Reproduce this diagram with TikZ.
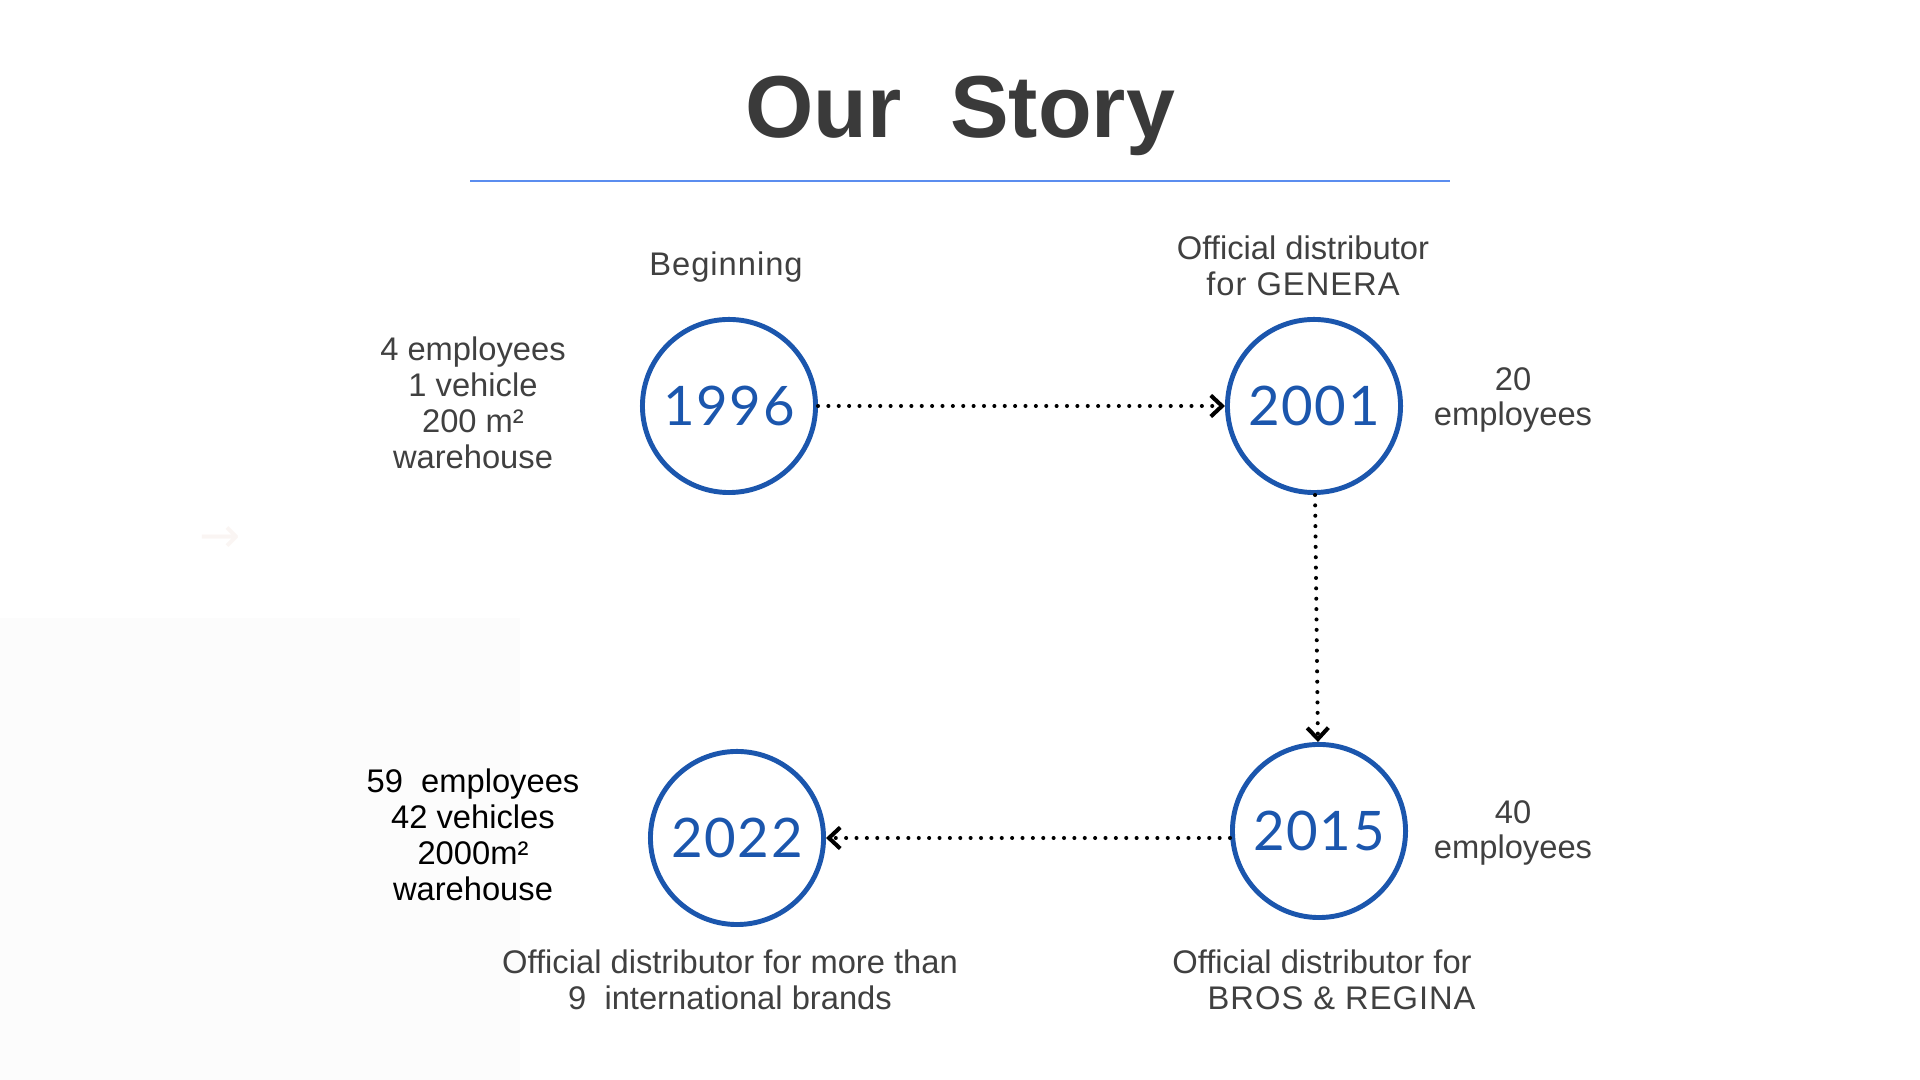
\documentclass[tikz,border=0pt]{standalone}
\usepackage{fontspec}
\setmainfont{Liberation Sans}
\newfontfamily\yearfont[LetterSpace=3]{Lato}
\newfontfamily\spacedfont[LetterSpace=3]{Liberation Sans}
\newfontfamily\symfont{DejaVu Sans}
\usepackage{tikz}
\usetikzlibrary{arrows.meta}
\definecolor{yearblue}{HTML}{1B56AD}
\definecolor{ruleblue}{HTML}{5B8DEF}
\definecolor{titlegrey}{HTML}{3A3A3A}
\definecolor{textgrey}{HTML}{404040}
\definecolor{panelgrey}{HTML}{FCFCFC}
\definecolor{ghost}{HTML}{FAF5F3}
\tikzset{
  year/.style={circle, draw=yearblue, line width=1.4pt, minimum size=1.73cm, text=yearblue, font=\yearfont\fontsize{15.5}{15.5}\selectfont},
  flow/.style={->, line width=1.15pt, dash pattern=on 0pt off 2.95pt, line cap=round},
}
\begin{document}
\begin{tikzpicture}[x=0.01cm, y=-0.01cm, every node/.style={font=\fontsize{9.3}{10.2}\selectfont, text=textgrey, align=center, inner sep=0pt}, >={Straight Barb[length=3.2pt,width=6pt]}]
\useasboundingbox (0,0) rectangle (1920,1080);
\fill[panelgrey] (0,618) rectangle (520,1080);
\node[text=ghost, font=\symfont\fontsize{14}{14}\selectfont] (ghostarrow) at (220,540) {→};
% title
\node[anchor=base, text=titlegrey, font=\bfseries\fontsize{25}{26}\selectfont] (title) at (960,138) {Our\ \ Story};
\draw[ruleblue, line width=0.6pt] (470,181) -- (1450,181);
% years
\node[year] (y1996) at (729,406) {1996};
\node[year] (y2001) at (1314,406) {2001};
\node[year] (y2015) at (1319,831) {2015};
\node[year] (y2022) at (737,838) {2022};
\draw[flow] (y1996) -- (y2001);
\draw[flow] (y2001) -- (y2015);
\draw[flow] (y2022 -| y2015.west) -- (y2022);
% captions
\node (begin) at (726,267) {\spacedfont Beginning};
\node (genera) at (1303,266) {Official distributor\\{\spacedfont for GENERA}};
\node (bros) at (1322,980) {Official distributor for\\\hspace*{1.2em}{\spacedfont BROS \& REGINA}};
\node (brands) at (730,980) {Official distributor for more than\\9\ \ international brands};
% figures
\node (start) at (473,403) {4 employees\\1 vehicle\\200 m²\\warehouse};
\node (staff20) at (1513,400) {20\\employees};
\node (staff40) at (1513,833) {40\\employees};
\node[text=black] (now) at (473,835) {59\ \ employees\\42 vehicles\\2000m²\\warehouse};
\end{tikzpicture}
\end{document}
